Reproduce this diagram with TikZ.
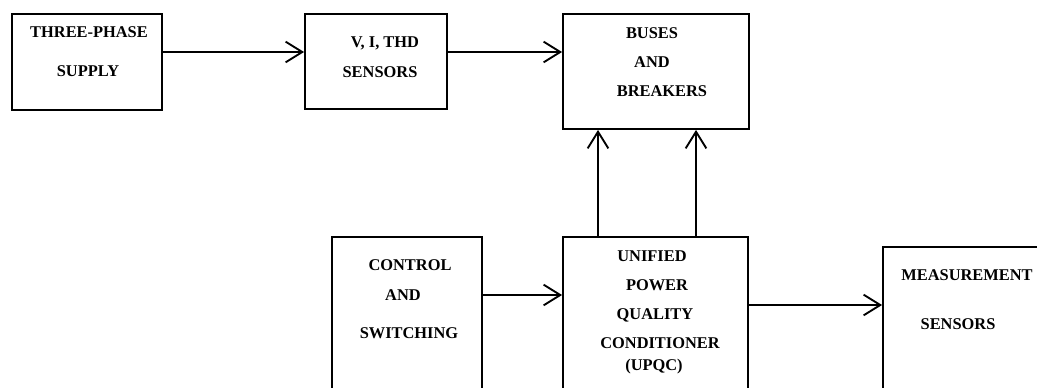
\documentclass[tikz,border=0pt]{standalone}
\usepackage{fontspec}
\setmainfont{Liberation Serif}
\usetikzlibrary{arrows.meta}
\tikzset{
	blk/.style={draw,line width=1.6pt,inner sep=0pt},
	lbl/.style={anchor=base,inner sep=0pt,font=\fontsize{14}{17}\selectfont\bfseries},
	arr/.style={line width=1.6pt,-{Straight Barb[length=0.5cm,width=0.62cm,line width=1.6pt]}}
}
\begin{document}
\begin{tikzpicture}[x=0.03cm,y=-0.03cm]
		\useasboundingbox (0,0) rectangle (1037,387);
		\clip (0,0) rectangle (1037,387);
		
		% boxes
		\node[blk,minimum width=150*0.03cm,minimum height=96*0.03cm]  (supply) at (87,62) {}; %three-phase supply
		\node[blk,minimum width=142*0.03cm,minimum height=95*0.03cm]  (vith)   at (376,61.5) {}; %sensors
		\node[blk,minimum width=186*0.03cm,minimum height=115*0.03cm] (buses)  at (656,71.5) {}; %buses and breakers
		\node[blk,minimum width=150*0.03cm,minimum height=183*0.03cm] (ctrl)   at (407,328.5) {}; %control
		\node[blk,minimum width=185*0.03cm,minimum height=183*0.03cm] (upqc)   at (655.5,328.5) {}; %upqc
		\node[blk,minimum width=180*0.03cm,minimum height=173*0.03cm] (meas)   at (973,333.5) {}; %measurement
		
		% texts
		\node[lbl] (t1)  at (89,37.5)   {THREE-PHASE};
		\node[lbl] (t2)  at (88,76.5)   {SUPPLY};
		\node[lbl] (t3)  at (385,47.5)  {V, I, THD};
		\node[lbl] (t4)  at (380,77.5)  {SENSORS};
		\node[lbl] (t5)  at (652,38.5)  {BUSES};
		\node[lbl] (t6)  at (652,67.5)  {AND};
		\node[lbl] (t7)  at (662,96.5)  {BREAKERS};
		\node[lbl] (t8)  at (410,270.5) {CONTROL};
		\node[lbl] (t9)  at (403,300.5) {AND};
		\node[lbl] (t10) at (409,338.5) {SWITCHING};
		\node[lbl] (t11) at (652,261.5) {UNIFIED};
		\node[lbl] (t12) at (657,290.5) {POWER};
		\node[lbl] (t13) at (655,319.5) {QUALITY};
		\node[lbl] (t14) at (660,348.5) {CONDITIONER};
		\node[lbl] (t15) at (654,370.5) {(UPQC)};
		\node[lbl] (t16) at (967,280.5) {MEASUREMENT};
		\node[lbl] (t17) at (958,329.5) {SENSORS};
		
		% arrows
		\draw[arr] (supply.east |- 0,52) -- (vith.west |- 0,52); %supply to sensors
		\draw[arr] (vith.east |- 0,52) -- (buses.west |- 0,52); %sensors to buses
		\draw[arr] (upqc.north -| 598,0) -- (buses.south -| 598,0); %left up
		\draw[arr] (upqc.north -| 696,0) -- (buses.south -| 696,0); %right up
		\draw[arr] (ctrl.east |- 0,295) -- (upqc.west |- 0,295); %control to upqc
		\draw[arr] (upqc.east |- 0,305) -- (meas.west |- 0,305); %upqc to measurement
\end{tikzpicture}
\end{document}
